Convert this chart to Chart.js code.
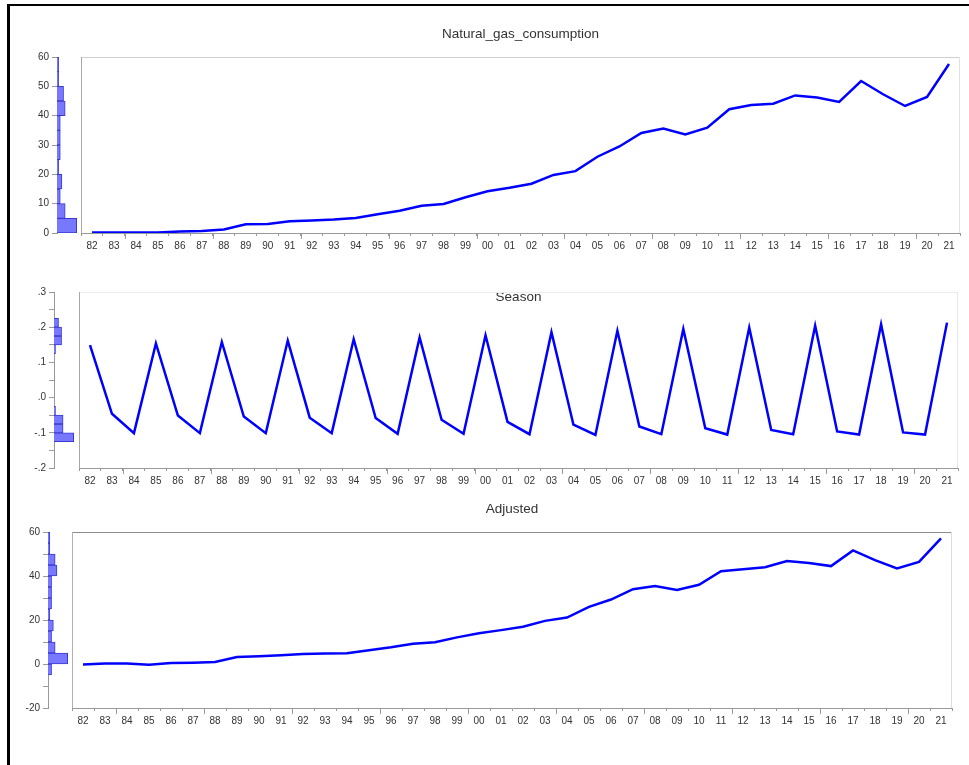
<!DOCTYPE html>
<html>
<head>
<meta charset="utf-8">
<script src="https://cdn.jsdelivr.net/npm/chart.js@4.4.1/dist/chart.umd.min.js"></script>
<style>
  html, body { margin: 0; padding: 0; background: #fff; }
  body { width: 969px; height: 765px; position: relative; overflow: hidden; }
  #frame { position: absolute; left: 7px; top: 4px; width: 980px; height: 800px;
           border-top: 2px solid #000; border-left: 3px solid #000; }
  canvas.cv { position: absolute; left: 0; }
</style>
</head>
<body>
<div id="frame"></div>
<canvas id="main1" class="cv"></canvas><canvas id="hist1" class="cv"></canvas>
<canvas id="main2" class="cv"></canvas><canvas id="hist2" class="cv"></canvas>
<canvas id="main3" class="cv"></canvas><canvas id="hist3" class="cv"></canvas>
<script>
// Years 1982-2021, labelled with two digits
const years = ['82','83','84','85','86','87','88','89','90','91','92','93','94','95','96','97','98','99',
               '00','01','02','03','04','05','06','07','08','09','10','11','12','13','14','15','16','17',
               '18','19','20','21'];

// Natural gas consumption
const consumption = [0.2, 0.2, 0.2, 0.2, 0.5, 0.7, 1.2, 3.0, 3.1, 4.0, 4.3, 4.6, 5.1, 6.4, 7.6, 9.3, 9.9,
                     12.2, 14.2, 15.4, 16.8, 19.8, 21.1, 26.0, 29.5, 34.1, 35.6, 33.6, 35.9, 42.2, 43.6,
                     44.1, 46.9, 46.2, 44.7, 51.8, 47.3, 43.3, 46.4, 57.6];

// Seasonal component
const season = [0.149, -0.046, -0.101, 0.154, -0.051, -0.101, 0.158, -0.054, -0.101, 0.162, -0.057,
                -0.101, 0.166, -0.058, -0.103, 0.171, -0.063, -0.103, 0.177, -0.069, -0.104, 0.186,
                -0.077, -0.106, 0.190, -0.082, -0.104, 0.195, -0.087, -0.105, 0.199, -0.092, -0.104,
                0.204, -0.096, -0.105, 0.208, -0.099, -0.105, 0.213];

// Seasonally adjusted series
const adjusted = [-0.2, 0.2, 0.2, -0.3, 0.5, 0.6, 0.9, 3.2, 3.5, 4.0, 4.6, 4.8, 4.9, 6.3, 7.6, 9.2, 9.9,
                  12.1, 14.0, 15.4, 16.9, 19.6, 21.1, 26.0, 29.3, 34.0, 35.4, 33.6, 36.0, 42.2, 43.1,
                  44.0, 46.8, 45.9, 44.5, 51.6, 47.2, 43.4, 46.4, 57.1];

// Value-axis ticks of each panel
const consumptionTicks = [0, 10, 20, 30, 40, 50, 60];
const seasonTicks = [-0.2, -0.1, 0.0, 0.1, 0.2, 0.3];
const adjustedTicks = [-20, 0, 20, 40, 60];

Chart.defaults.font.family = '"Liberation Sans", Arial, sans-serif';
Chart.defaults.animation = false;

const W = 969;
const AXIS = '#999';
const TEXT = '#333';

// Frame of the plot area: left, top and right edges
const plotFrame = {
  id: 'plotFrame',
  beforeDatasetsDraw(chart, args, opts) {
    const { left, right, top, bottom } = chart.chartArea;
    const ctx = chart.ctx;
    ctx.save();
    ctx.lineWidth = 1;
    ctx.strokeStyle = opts.top;
    ctx.beginPath(); ctx.moveTo(left, Math.round(top) + 0.5); ctx.lineTo(right, Math.round(top) + 0.5); ctx.stroke();
    ctx.strokeStyle = opts.right;
    ctx.beginPath(); ctx.moveTo(Math.round(right) - 0.5, top); ctx.lineTo(Math.round(right) - 0.5, bottom); ctx.stroke();
    ctx.strokeStyle = opts.left;
    ctx.beginPath(); ctx.moveTo(Math.round(left) + 0.5, top); ctx.lineTo(Math.round(left) + 0.5, bottom); ctx.stroke();
    ctx.restore();
  }
};

// Longer tick marks at the start of every leap year
const leapTicks = {
  id: 'leapTicks',
  afterDraw(chart) {
    const sx = chart.scales.x;
    const ctx = chart.ctx;
    const half = (sx.getPixelForTick(1) - sx.getPixelForTick(0)) / 2;
    ctx.save();
    ctx.strokeStyle = AXIS;
    ctx.lineWidth = 1;
    sx.getLabels().forEach((lab, i) => {
      if (Number(lab) % 4 === 0) {
        const x = Math.round(sx.getPixelForTick(i) - half) + 0.5;
        ctx.beginPath(); ctx.moveTo(x, sx.top); ctx.lineTo(x, sx.top + 6); ctx.stroke();
      }
    });
    ctx.restore();
  }
};

function histogram(values, lo, hi, width) {
  const n = Math.round((hi - lo) / width);
  const counts = new Array(n).fill(0);
  values.forEach(v => {
    const k = Math.floor((v - lo) / width + 1e-9);
    if (k >= 0 && k < n) counts[k]++;
  });
  return counts.map((c, k) => ({ x: c, y: lo + (k + 0.5) * width }));
}

function drawPanel(p) {
  const top = p.boxTop - 40;
  const height = p.boxBottom - top + 26;
  const below = top + height - p.boxBottom;

  // time series
  const mc = document.getElementById(p.main);
  mc.width = W; mc.height = height; mc.style.top = top + 'px';
  const titleTop = p.titleY - 7 - top;
  new Chart(mc, {
    type: 'line',
    data: {
      labels: years,
      datasets: [{
        data: p.values,
        borderColor: '#0000ff',
        borderWidth: 2.5,
        pointRadius: 0,
        tension: 0,
        fill: false
      }]
    },
    options: {
      responsive: false,
      layout: { padding: { left: p.boxLeft, right: W - p.boxRight, top: 0, bottom: 0 } },
      plugins: {
        legend: { display: false },
        tooltip: { enabled: false },
        title: {
          display: true,
          text: p.title,
          color: TEXT,
          font: { size: 13.5, weight: 'normal', lineHeight: '14px' },
          padding: { top: titleTop, bottom: p.boxTop - top - titleTop - 14 }
        },
        plotFrame: p.frame
      },
      scales: {
        x: {
          type: 'category',
          offset: true,
          grid: { offset: true, drawOnChartArea: false, drawTicks: true, tickLength: 3, color: AXIS },
          border: { display: true, color: AXIS },
          ticks: { autoSkip: false, maxRotation: 0, color: TEXT, font: { size: 10 }, padding: 4 },
          afterFit(axis) { axis.height = below; }
        },
        y: { display: false, min: p.min, max: p.max }
      }
    },
    plugins: [plotFrame, leapTicks]
  });

  // distribution of the values along the value axis
  const hc = document.getElementById(p.hist);
  hc.width = p.axisX + 24; hc.height = height; hc.style.top = top + 'px';
  const bins = histogram(p.values, p.min, p.max, p.bin);
  const maxCount = Math.max(...bins.map(b => b.x));
  new Chart(hc, {
    type: 'bar',
    data: {
      datasets: [{
        data: bins,
        backgroundColor: '#7878ff',
        borderColor: '#3a3ad6',
        borderWidth: 1,
        barPercentage: 1,
        categoryPercentage: 1
      }]
    },
    options: {
      responsive: false,
      indexAxis: 'y',
      layout: { padding: { left: 0, right: 0, top: p.boxTop - top, bottom: below } },
      plugins: { legend: { display: false }, tooltip: { enabled: false } },
      scales: {
        x: { type: 'linear', display: false, min: 0, max: maxCount * 1.22 },
        y: {
          type: 'linear',
          position: 'left',
          offset: false,
          min: p.min,
          max: p.max,
          grid: { offset: false, drawOnChartArea: false, drawTicks: true, tickLength: 5, color: AXIS },
          border: { display: true, color: AXIS },
          ticks: {
            stepSize: p.minor,
            color: TEXT,
            font: { size: 10 },
            padding: 3,
            callback: v => {
              const hit = p.ticks.find(t => Math.abs(t - v) < 1e-6);
              return hit === undefined ? '' : p.fmt(hit);
            }
          },
          afterFit(axis) { axis.width = p.axisX; }
        }
      }
    }
  });
}

const fmtInt = v => String(v);
const fmtDec = v => (v < 0 ? '-' : '') + '.' + Math.round(Math.abs(v) * 10);

drawPanel({
  main: 'main1', hist: 'hist1', title: 'Natural_gas_consumption', values: consumption,
  min: 0, max: 60, minor: 5, bin: 5, ticks: consumptionTicks, fmt: fmtInt,
  boxTop: 57, boxBottom: 233, boxLeft: 81, boxRight: 960, axisX: 57, titleY: 34,
  frame: { top: '#cfcfcf', right: '#e2e2e2', left: '#a8a8a8' }
});
drawPanel({
  main: 'main2', hist: 'hist2', title: 'Season', values: season,
  min: -0.2, max: 0.3, minor: 0.05, bin: 0.025, ticks: seasonTicks, fmt: fmtDec,
  boxTop: 292, boxBottom: 468, boxLeft: 79, boxRight: 958, axisX: 54, titleY: 297,
  frame: { top: '#ececec', right: '#e6e6e6', left: '#a8a8a8' }
});
drawPanel({
  main: 'main3', hist: 'hist3', title: 'Adjusted', values: adjusted,
  min: -20, max: 60, minor: 10, bin: 5, ticks: adjustedTicks, fmt: fmtInt,
  boxTop: 532, boxBottom: 708, boxLeft: 72, boxRight: 952, axisX: 48, titleY: 509,
  frame: { top: '#8c8c8c', right: '#dcdcdc', left: '#b0b0b0' }
});
</script>
</body>
</html>
